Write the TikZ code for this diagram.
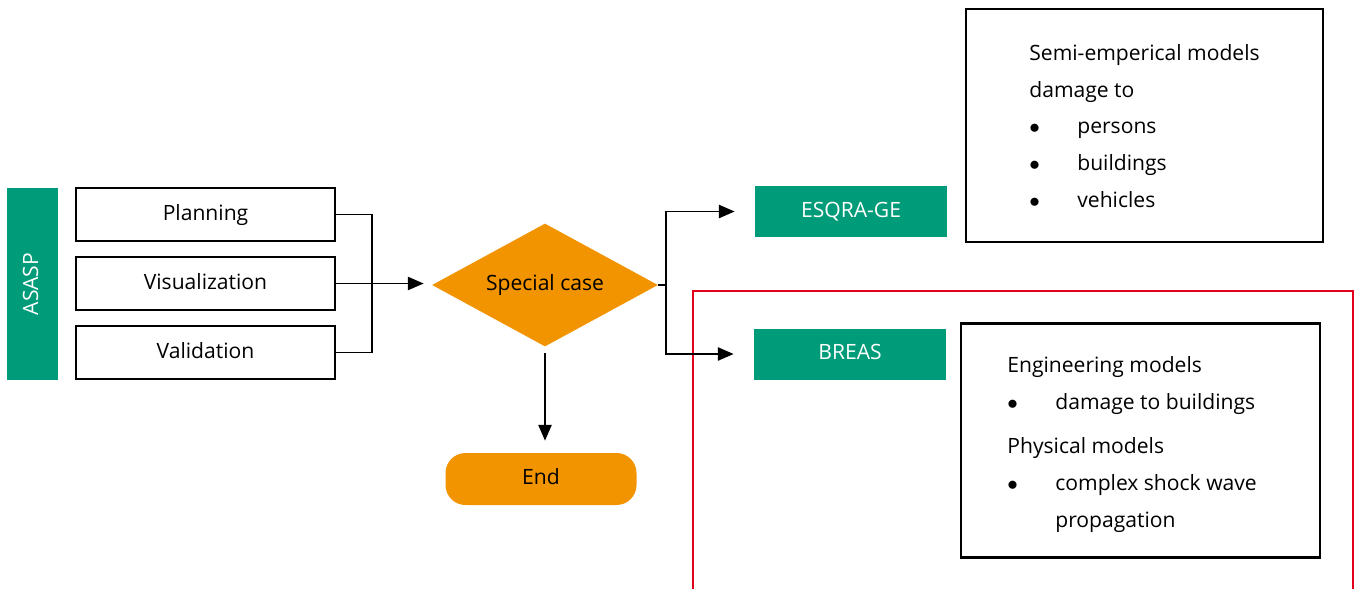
\documentclass[tikz,border=0pt]{standalone}
\usepackage{fontspec}
\setmainfont{Open Sans}
\usetikzlibrary{shapes.geometric, arrows.meta, positioning, calc}
\definecolor{fhgreen}{RGB}{0, 155, 120}
\definecolor{fhorange}{RGB}{242, 148, 0}
\definecolor{framered}{RGB}{226, 0, 26}
\newcommand{\bitem}[1]{\makebox[9.6mm][l]{$\bullet$}#1}

\begin{document}
\begin{tikzpicture}[
    x=0.2mm, y=-0.2mm,
    font=\fontsize{12}{14}\selectfont,
    box/.style={draw, line width=1.2pt, minimum width=51.8mm,
                minimum height=10.6mm, inner sep=0pt,
                text height=1.45ex, text depth=0.25ex},
    tool/.style={fill=fhgreen, text=white, minimum width=38.4mm,
                 minimum height=10.2mm, inner sep=0pt,
                 text height=1.45ex, text depth=0.25ex},
    decision/.style={diamond, aspect=2, fill=fhorange, minimum width=45.2mm,
                     minimum height=24.6mm, inner sep=0pt,
                     text height=1.45ex, text depth=0.25ex},
    terminal/.style={fill=fhorange, rounded corners=4mm,
                     minimum width=38.2mm, minimum height=10.4mm,
                     text height=1.45ex, text depth=0.25ex},
    infobox/.style={draw, line width=1.2pt, minimum width=71.4mm,
                    minimum height=46.6mm},
    info/.style={align=left, inner sep=0pt,
                 font=\fontsize{12}{21}\selectfont},
    line/.style={line width=1.1pt},
    arrow/.style={line, -{Triangle[length=9pt, width=7.5pt]}},
]
    \useasboundingbox (0,0) rectangle (1357,589);

    \node[tool, rotate=90] (asasp) at (32.5,284) {ASASP};
    \node[box] (planning) at (205.5,214.5) {Planning};
    \node[box] (visual) at (205.5,283.5) {Visualization};
    \node[box] (valid) at (205.5,352.5) {Validation};

    \node[decision] (case) at (545,285) {Special case};
    \node[terminal] (theend) at (541,479) {End};

    \node[tool] (esqra) at (851,211.5) {ESQRA-GE};
    \node[tool] (breas) at (850,354) {BREAS};

    \node[infobox] (semibox) at (1144.5,125.5) {};
    \node[info, anchor=west] (semitext) at (1029,126)
        {Semi-emperical models\\damage to\\\bitem{persons}\\
         \bitem{buildings}\\\bitem{vehicles}};

    \node[infobox, minimum width=71.8mm, minimum height=46.8mm] (engbox)
        at (1140.5,440.5) {};
    \node[info, anchor=west] (engtext) at (1007,444.5)
        {Engineering models\\\bitem{damage to buildings}\\[1.6mm]
         Physical models\\\bitem{complex shock wave}\\
         \hspace*{9.6mm}propagation};

    \draw[framered, line width=0.9pt] (693,589) |- (1353,291) -- (1353,589);

    \draw[line] (planning.east) -- ++(36,0) |- (valid.east);
    \draw[arrow, shorten >=1.6mm] (visual.east) -- (visual.east -| case.west);
    \draw[arrow, shorten <=1.2mm, shorten >=2.4mm]
        (case.south) -- (case.south |- theend.north);
    \draw[arrow, shorten >=4mm] (case.east) -- ++(8,0) |- (esqra.west);
    \draw[arrow, shorten >=4mm] (case.east) -- ++(8,0) |- (breas.west);
\end{tikzpicture}
\end{document}
